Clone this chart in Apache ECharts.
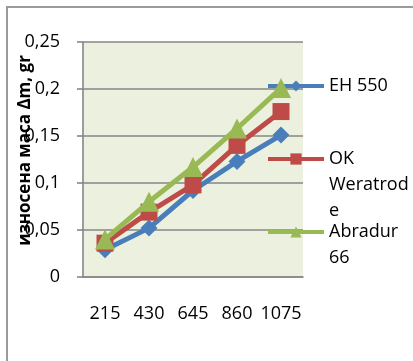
<!DOCTYPE html>
<html>
<head>
<meta charset="utf-8">
<script src="https://cdn.jsdelivr.net/npm/echarts@6/dist/echarts.min.js"></script>
<style>
  html, body { margin: 0; padding: 0; background: #fff; }
  #chart { width: 413px; height: 361px; }
</style>
</head>
<body>
<div id="chart"></div>
<script>
// Sliding distance categories
const categories = ['215', '430', '645', '860', '1075'];

// Worn-off mass per electrode type
const eh550 = [0.029, 0.052, 0.092, 0.123, 0.151];
const okWeratrode = [0.036, 0.069, 0.098, 0.140, 0.176];
const abradur66 = [0.040, 0.080, 0.117, 0.158, 0.201];

const seriesNames = ['EH 550', 'OK Weratrode', 'Abradur 66'];
// Legend labels as wrapped in the narrow legend column
const legendLines = {
  'EH 550': ['EH 550'],
  'OK Weratrode': ['OK', 'Weratrod', 'e'],
  'Abradur 66': ['Abradur', '66']
};

const yTicks = { min: 0, max: 0.25, interval: 0.05 };

const FONT = '"Open Sans", sans-serif';
const LINE_H = 26;

const chart = echarts.init(document.getElementById('chart'), null, { renderer: 'canvas' });

// Pad with blank lines above so the first text line sits level with the icon
function legendText(name) {
  const lines = legendLines[name];
  const blanks = new Array(lines.length - 1).fill('');
  return blanks.concat(lines).join('\n');
}

function legendFor(name, top) {
  return {
    data: [name],
    orient: 'vertical',
    left: 266,
    top: top,
    padding: 0,
    itemWidth: 56,
    itemHeight: 14,
    lineStyle: { width: 4 },
    formatter: legendText,
    textStyle: {
      fontFamily: FONT,
      fontSize: 18,
      color: '#000',
      lineHeight: LINE_H
    }
  };
}

chart.setOption({
  animation: false,
  backgroundColor: '#fff',
  graphic: [{
    type: 'rect',
    shape: { x: 7, y: 7, width: 600, height: 600 },
    style: { fill: 'none', stroke: '#9a9a9a', lineWidth: 2 },
    z: -1
  }],
  grid: {
    left: 83, right: 110, top: 42, bottom: 84,
    containLabel: false,
    outerBoundsMode: 'none',
    show: true,
    backgroundColor: '#ebf1de',
    borderWidth: 0
  },
  legend: [
    legendFor(seriesNames[0], 73),
    legendFor(seriesNames[1], 94),
    legendFor(seriesNames[2], 193)
  ],
  xAxis: {
    type: 'category',
    data: categories,
    boundaryGap: true,
    axisLine: { show: true, lineStyle: { color: '#868686', width: 1.6 } },
    axisTick: { show: false },
    axisLabel: { fontFamily: FONT, fontSize: 18, color: '#000', margin: 28, interval: 0 },
    splitLine: { show: false }
  },
  yAxis: {
    type: 'value',
    min: yTicks.min,
    max: yTicks.max,
    interval: yTicks.interval,
    name: 'износена маса Δm, gr',
    nameLocation: 'middle',
    nameGap: 49,
    nameMoveOverlap: false,
    nameTextStyle: {
      fontFamily: FONT, fontSize: 17, fontWeight: 'bold', color: '#000',
      padding: [0, 0, 0, 18]
    },
    axisLine: { show: true, lineStyle: { color: '#868686', width: 1.6 } },
    axisTick: { show: true, inside: false, length: 6, lineStyle: { color: '#868686', width: 1.6 } },
    axisLabel: {
      fontFamily: FONT, fontSize: 18, color: '#000', margin: 23,
      formatter: v => String(Math.round(v * 100) / 100).replace('.', ',')
    },
    splitLine: { show: true, lineStyle: { color: '#868686', width: 1.6 } }
  },
  series: [
    {
      name: seriesNames[0], type: 'line', data: eh550,
      symbol: 'diamond', symbolSize: 17,
      lineStyle: { color: '#4a7ebb', width: 5 },
      itemStyle: { color: '#4a7ebb' },
      z: 2
    },
    {
      name: seriesNames[1], type: 'line', data: okWeratrode,
      symbol: 'rect', symbolSize: 17,
      lineStyle: { color: '#be4b48', width: 5 },
      itemStyle: { color: '#be4b48' },
      z: 3
    },
    {
      name: seriesNames[2], type: 'line', data: abradur66,
      symbol: 'triangle', symbolSize: 20,
      lineStyle: { color: '#98b954', width: 5 },
      itemStyle: { color: '#98b954' },
      z: 4
    }
  ]
});
</script>
</body>
</html>
